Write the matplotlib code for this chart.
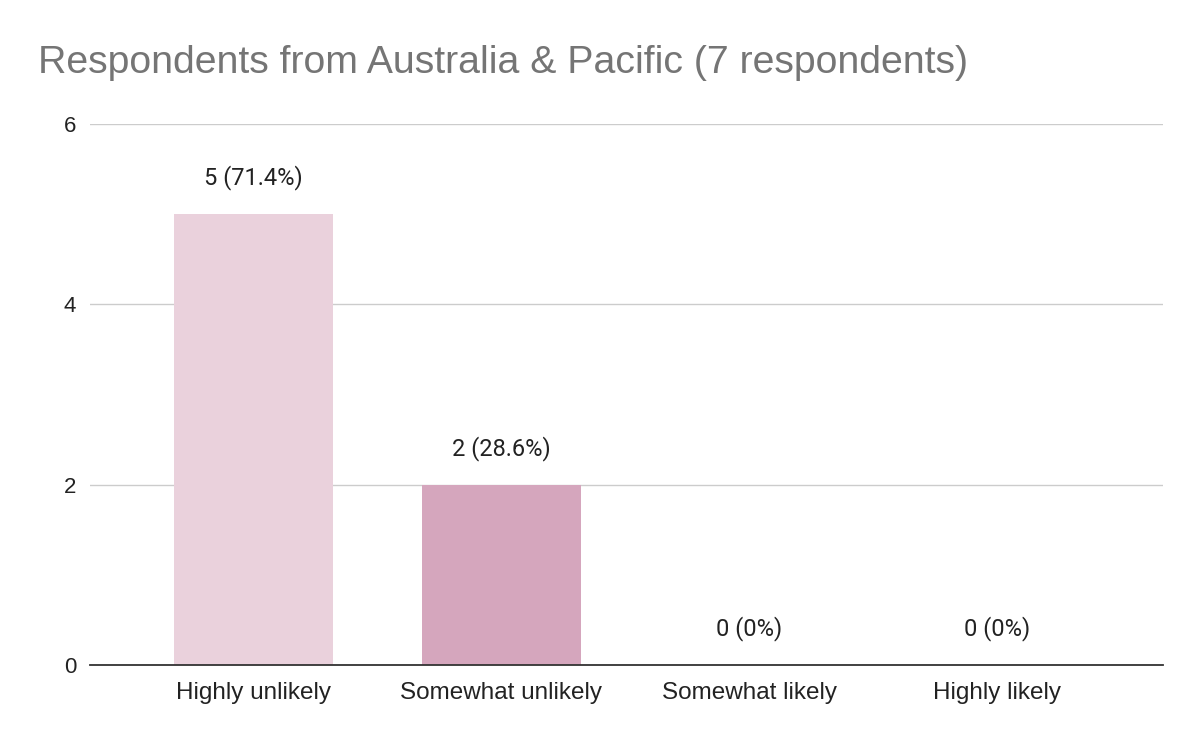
import matplotlib.pyplot as plt
import numpy as np

categories = ['Highly unlikely', 'Somewhat unlikely', 'Somewhat likely', 'Highly likely']
counts = [5, 2, 0, 0]
percent_labels = ['5 (71.4%)', '2 (28.6%)', '0 (0%)', '0 (0%)']
bar_colors = ['#ead1dc', '#d5a6bd', '#c27ba0', '#a64d79']
yticks = [0, 2, 4, 6]

fig = plt.figure(figsize=(12, 7.42), dpi=100)
ax = fig.add_axes([0.075, 0.1038, 0.894, 0.7292])

x = np.arange(len(categories))
ax.bar(x, counts, width=0.64, color=bar_colors, zorder=2)

# value labels above each bar
for xi, c, lab in zip(x, counts, percent_labels):
    ax.text(xi, c + 0.4, lab, ha='center', va='center', fontsize=17,
            family='Roboto', color='#222222')

ax.set_xlim(-0.66, 3.67)
ax.set_ylim(0, 6)
ax.set_yticks(yticks)
ax.set_yticklabels([str(v) for v in yticks], fontsize=16, family='Liberation Sans')
ax.set_xticks(x)
ax.set_xticklabels(categories, fontsize=17.5, family='Liberation Sans')
ax.tick_params(axis='both', length=0, colors='#222222')
ax.tick_params(axis='x', pad=12)
ax.tick_params(axis='y', pad=10)

ax.grid(axis='y', color='#cccccc', linewidth=1, zorder=0)
for s in ['top', 'right', 'left']:
    ax.spines[s].set_visible(False)
ax.spines['bottom'].set_color('#333333')
ax.spines['bottom'].set_linewidth(1.3)
ax.spines['bottom'].set_zorder(3)

fig.text(0.032, 0.915, 'Respondents from Australia & Pacific (7 respondents)',
         fontsize=28.3, family='Liberation Sans', color='#757575', ha='left', va='center')

fig.savefig('out.png', dpi=100, facecolor='white')
